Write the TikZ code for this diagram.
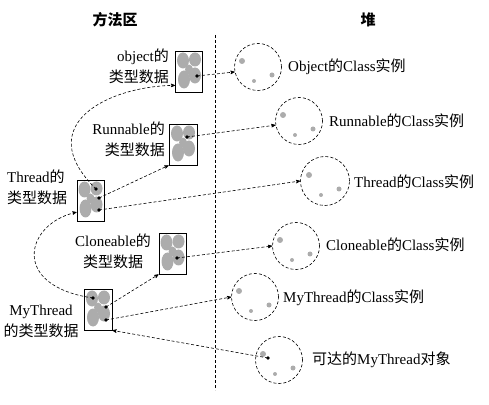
\documentclass[tikz,border=0pt]{standalone}
\usepackage{fontspec}
\setmainfont{Liberation Serif}
\newfontfamily\cjk{Noto Sans CJK SC}
\newcommand{\zh}[1]{{\cjk #1}}
\usepackage{tikz}
\usetikzlibrary{%
  arrows,%
  calc,%
  shapes.geometric,%
  positioning}

\tikzset{
  typebox/.style={rectangle,draw,line width=0.8pt,minimum width=27pt,minimum height=41pt,inner sep=0pt},
  inst/.style={circle,draw,densely dashed,line width=0.6pt,minimum size=47pt,inner sep=0pt},
  lbl/.style={font=\fontsize{15}{21}\selectfont,inner sep=0pt},
  ptr/.style={dash pattern=on 3pt off 2pt,line width=0.6pt,-stealth'},
  blob/.style={fill=gray!65},
}

\begin{document}
\begin{tikzpicture}[x=1pt,y=1pt]
\useasboundingbox (0,0) rectangle (489,404);
% titres et separation
\node (MA) at (115,384) [lbl] {\zh{\bfseries 方法区}};
\node (HP) at (368,384) [lbl] {\zh{\bfseries 堆}};
\draw[densely dashed,line width=0.7pt] (215,369) -- (215,14);
% donnees de type (zone des methodes)
\node (OB) at (189,332.5) [typebox] {};
\node (RB) at (183,259.5) [typebox,minimum width=28pt] {};
\node (TB) at (90.5,203.5) [typebox] {};
\node (CB) at (172.5,150.5) [typebox] {};
\node (MB) at (98,94.5) [typebox,minimum width=28pt] {};
\foreach \b in {OB,RB,TB,CB,MB} {
  \begin{scope}[shift={(\b.center)}]
    \fill[blob] (-6,11) ellipse (6 and 8);
    \fill[blob] (6,12) ellipse (6 and 7);
    \fill[blob] (-5,-8) ellipse (6 and 9);
    \fill[blob] (6,-4) ellipse (6 and 8);
    \fill[blob] (0,2) ellipse (4 and 5);
  \end{scope}
}
\node (OL) at (169,338) [lbl,anchor=east,align=right] {object\zh{的}\\\zh{类型数据}};
\node (RL) at (165,265) [lbl,anchor=east,align=right] {Runnable\zh{的}\\\zh{类型数据}};
\node (TL) at (7,217) [lbl,anchor=west,align=left] {Thread\zh{的}\\\zh{类型数据}};
\node (CL) at (113,153) [lbl,align=center] {Cloneable\zh{的}\\\zh{类型数据}};
\node (ML) at (41,83) [lbl,align=center] {MyThread\\\zh{的类型数据}};
% instances (tas)
\node (OC) at (258,337) [inst] {};
\node (RC) at (299,283) [inst] {};
\node (TC) at (325,223) [inst,minimum size=49pt] {};
\node (CC) at (296,158) [inst] {};
\node (MC) at (255,107) [inst] {};
\node (IC) at (279,44) [inst] {};
\foreach \c in {OC,RC,TC,CC,MC,IC} {
  \fill[blob] (\c.center) ++(-16,6) circle (3);
  \fill[blob] (\c.center) ++(14,-8) circle (2.5);
  \fill[blob] (\c.center) ++(-4,-14) circle (2);
}
\node (OT) at (288,337) [lbl,anchor=west] {Object\zh{的}Class\zh{实例}};
\node (RT) at (329,283) [lbl,anchor=west] {Runnable\zh{的}Class\zh{实例}};
\node (TT) at (354,222) [lbl,anchor=west] {Thread\zh{的}Class\zh{实例}};
\node (CT) at (326,159) [lbl,anchor=west] {Cloneable\zh{的}Class\zh{实例}};
\node (MT) at (283,106) [lbl,anchor=west] {MyThread\zh{的}Class\zh{实例}};
\node (IT) at (312,44) [lbl,anchor=west] {\zh{可达的}MyThread\zh{对象}};
% points de depart des references
\coordinate (od) at (197,328);
\coordinate (rd) at (187,267);
\coordinate (td1) at (96,215);
\coordinate (td2) at (99,206);
\coordinate (td3) at (99,194);
\coordinate (cd) at (177,146);
\coordinate (md1) at (93,106);
\coordinate (md2) at (106,97);
\coordinate (md3) at (106,84);
\coordinate (id) at (268,46);
\foreach \p in {od,rd,td1,td2,td3,cd,md1,md2,md3,id}
  \fill (\p) circle (1.8);
% references
\draw[ptr] (od) -- (OC.192);
\draw[ptr] (rd) -- (RC.190);
\draw[ptr] (td3) -- (TC.west);
\draw[ptr] (cd) -- (CC.west);
\draw[ptr] (md3) -- (MC.west);
\draw[ptr] (td2) -- (RB.south west);
\draw[ptr] (md2) -- (CB.south west);
\draw[ptr] (id) -- (MB.south east);
\draw[ptr] (td1) .. controls (30,280) and (110,318) .. (OB.225);
\draw[ptr] (md1) .. controls (10,118) and (25,180) .. (TB.220);
\end{tikzpicture}
\end{document}
